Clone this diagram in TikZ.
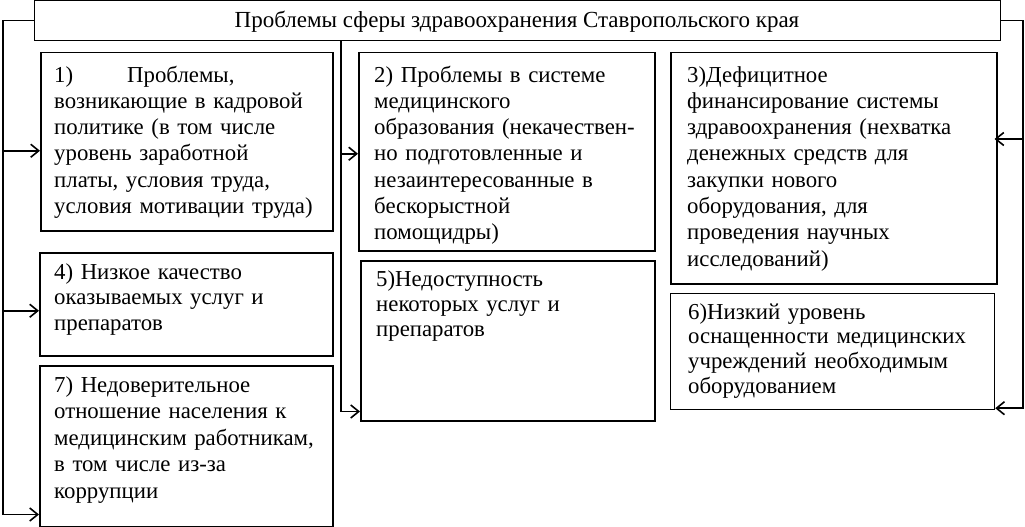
\documentclass[tikz,border=0pt]{standalone}
\usepackage{fontspec}
\setmainfont{Liberation Serif}
\usetikzlibrary{arrows.meta,calc}
\begin{document}
\begin{tikzpicture}[x=1pt,y=-1pt,
  boxst/.style={draw, line width=1.5pt, inner sep=0pt, anchor=north west},
  txt/.style={anchor=base west, align=left, inner sep=0pt, text width=320pt,
    font=\fontsize{22.8}{#1}\selectfont},
  txt/.default=26.3,
  conn/.style={line width=1.6pt},
  arr/.style={line width=1.6pt, -{Straight Barb[length=8pt,width=13pt,line width=1.6pt]}}]
\useasboundingbox (0,0) rectangle (1025,527);
% title
\node[draw, line width=1pt, inner sep=0pt, anchor=north west, minimum width=966pt, minimum height=40pt] (title) at (34,0) {};
\node[anchor=base, inner sep=0pt, font=\fontsize{23}{26}\selectfont] (ttl) at (517,28) {Проблемы сферы здравоохранения Ставропольского края};
% boxes
\node[boxst, minimum width=292pt, minimum height=178pt] (b1) at (40,52) {};
\node[boxst, minimum width=296pt, minimum height=198pt] (b2) at (358,52) {};
\node[boxst, minimum width=326pt, minimum height=231pt] (b3) at (670,52) {};
\node[boxst, minimum width=293pt, minimum height=103pt] (b4) at (39,252) {};
\node[boxst, minimum width=294pt, minimum height=160pt] (b5) at (360,260) {};
\node[boxst, line width=1.2pt, minimum width=324pt, minimum height=116pt] (b6) at (670,293) {};
\node[boxst, minimum width=293pt, minimum height=161pt] (b7) at (39,365) {};
% texts
\node[txt] (t1) at ($(b1.north west)+(14,30)$) {1)\hspace{54pt}Проблемы,\\возникающие в кадровой\\политике (в том числе\\уровень заработной\\платы, условия труда,\\условия мотивации труда)};
\node[txt] (t2) at ($(b2.north west)+(16,30)$) {2) Проблемы в системе\\медицинского\\образования (некачествен-\\но подготовленные и\\незаинтересованные в\\бескорыстной\\помощидры)};
\node[txt] (t3) at ($(b3.north west)+(17,30)$) {3)Дефицитное\\финансирование системы\\здравоохранения (нехватка\\денежных средств для\\закупки нового\\оборудования, для\\проведения научных\\исследований)};
\node[txt=25.5] (t4) at ($(b4.north west)+(15,27)$) {4) Низкое качество\\оказываемых услуг и\\препаратов};
\node[txt=25] (t5) at ($(b5.north west)+(16,26)$) {5)Недоступность\\некоторых услуг и\\препаратов};
\node[txt=24.7] (t6) at ($(b6.north west)+(18,26)$) {6)Низкий уровень\\оснащенности медицинских\\учреждений необходимым\\оборудованием};
\node[txt=26.6] (t7) at ($(b7.north west)+(15,27)$) {7) Недоверительное\\отношение населения к\\медицинским работникам,\\в том числе из-за\\коррупции};
% bus coordinates
\coordinate (lb) at (3,0);
\coordinate (mb) at (341,0);
\coordinate (rb) at (1023,0);
\coordinate (a1) at ($(b1.west)+(0,9)$);
\coordinate (a4) at ($(b4.west)+(0,6.5)$);
\coordinate (a7) at ($(b7.south west)+(0,-13)$);
\coordinate (a2) at ($(b2.west)+(0,2)$);
\coordinate (a5) at ($(b5.south west)+(0,-10)$);
\coordinate (a3) at ($(b3.north east)+(-3,87)$);
\coordinate (a6) at ($(b6.south east)+(0,-2)$);
% connectors
\draw[arr] (title.west) -| (lb |- a7) -- (a7);
\draw[arr] (lb |- a1) -- (a1);
\draw[arr] (lb |- a4) -- (a4);
\draw[arr] (title.south -| mb) |- (a5);
\draw[arr] (mb |- a2) -- (a2);
\draw[arr] (title.east) -| (rb |- a6) -- (a6);
\draw[arr] (rb |- a3) -- (a3);
\end{tikzpicture}
\end{document}
